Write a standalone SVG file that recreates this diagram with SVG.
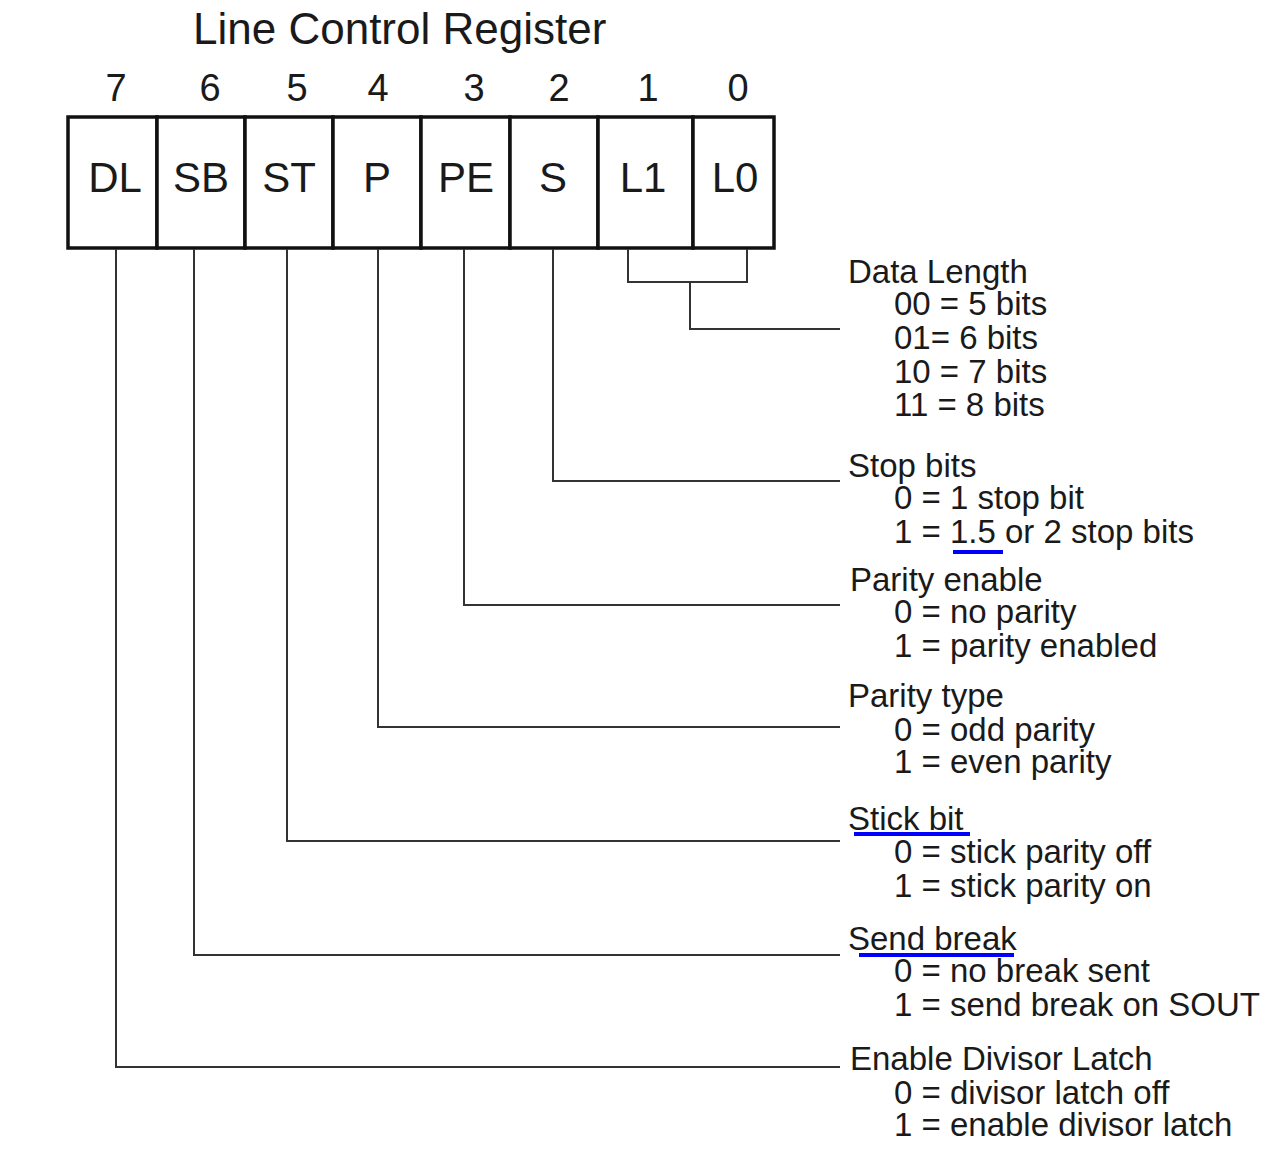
<svg xmlns="http://www.w3.org/2000/svg" width="1271" height="1175" viewBox="0 0 1271 1175">
<style>
text{font-family:"Liberation Sans",Arial,sans-serif;fill:#1a1a1a}
.t{font-size:44px}
.n{font-size:38px;text-anchor:middle}
.c{font-size:42px;text-anchor:middle}
.d{font-size:33px}
.cell{fill:#fff;stroke:#111;stroke-width:3.5}
.ln{fill:none;stroke:#333;stroke-width:2}
.ul{stroke:#0000ff;stroke-width:4}
</style>
<rect width="1271" height="1175" fill="#fff"/>
<text class="t" x="193" y="44">Line Control Register</text>
<g id="bitnums">
<text class="n" x="116" y="101">7</text>
<text class="n" x="210" y="101">6</text>
<text class="n" x="297" y="101">5</text>
<text class="n" x="378" y="101">4</text>
<text class="n" x="474" y="101">3</text>
<text class="n" x="559" y="101">2</text>
<text class="n" x="648" y="101">1</text>
<text class="n" x="738" y="101">0</text>
</g>
<g id="register">
<g id="DL"><rect class="cell" x="68" y="117" width="89" height="131"/><text class="c" x="115" y="192">DL</text></g>
<g id="SB"><rect class="cell" x="157" y="117" width="88" height="131"/><text class="c" x="201" y="192">SB</text></g>
<g id="ST"><rect class="cell" x="245" y="117" width="88" height="131"/><text class="c" x="289" y="192">ST</text></g>
<g id="P"><rect class="cell" x="333" y="117" width="88" height="131"/><text class="c" x="377" y="192">P</text></g>
<g id="PE"><rect class="cell" x="421" y="117" width="89" height="131"/><text class="c" x="466" y="192">PE</text></g>
<g id="S"><rect class="cell" x="510" y="117" width="88" height="131"/><text class="c" x="553" y="192">S</text></g>
<g id="L1"><rect class="cell" x="598" y="117" width="95" height="131"/><text class="c" x="643" y="192">L1</text></g>
<g id="L0"><rect class="cell" x="693" y="117" width="81" height="131"/><text class="c" x="735" y="192">L0</text></g>
</g>
<g id="connectors">
<polyline class="ln" points="628,249 628,282 747,282 747,249"/>
<polyline class="ln" points="690,282 690,329 840,329"/>
<polyline class="ln" points="553,249 553,481 840,481"/>
<polyline class="ln" points="464,249 464,605 840,605"/>
<polyline class="ln" points="378,249 378,727 840,727"/>
<polyline class="ln" points="287,249 287,841 840,841"/>
<polyline class="ln" points="194,249 194,955 840,955"/>
<polyline class="ln" points="116,249 116,1067 840,1067"/>
</g>
<g id="desc-data-length">
<text class="d" x="848" y="283">Data Length</text>
<text class="d" x="894" y="315">00 = 5 bits</text>
<text class="d" x="894" y="349">01= 6 bits</text>
<text class="d" x="894" y="383">10 = 7 bits</text>
<text class="d" x="894" y="416">11 = 8 bits</text>
</g>
<g id="desc-stop-bits">
<text class="d" x="848" y="477">Stop bits</text>
<text class="d" x="894" y="509">0 = 1 stop bit</text>
<text class="d" x="894" y="543">1 = 1.5 or 2 stop bits</text>
<line class="ul" x1="953" y1="552" x2="1003" y2="552"/>
</g>
<g id="desc-parity-enable">
<text class="d" x="850" y="591">Parity enable</text>
<text class="d" x="894" y="623">0 = no parity</text>
<text class="d" x="894" y="657">1 = parity enabled</text>
</g>
<g id="desc-parity-type">
<text class="d" x="848" y="707">Parity type</text>
<text class="d" x="894" y="741">0 = odd parity</text>
<text class="d" x="894" y="773">1 = even parity</text>
</g>
<g id="desc-stick-bit">
<text class="d" x="848" y="830">Stick bit</text>
<line class="ul" x1="854" y1="834" x2="970" y2="834"/>
<text class="d" x="894" y="863">0 = stick parity off</text>
<text class="d" x="894" y="897">1 = stick parity on</text>
</g>
<g id="desc-send-break">
<text class="d" x="848" y="950">Send break</text>
<line class="ul" x1="859" y1="955" x2="1014" y2="955"/>
<text class="d" x="894" y="982">0 = no break sent</text>
<text class="d" x="894" y="1016">1 = send break on SOUT</text>
</g>
<g id="desc-divisor-latch">
<text class="d" x="850" y="1070">Enable Divisor Latch</text>
<text class="d" x="894" y="1104">0 = divisor latch off</text>
<text class="d" x="894" y="1136">1 = enable divisor latch</text>
</g>
</svg>
